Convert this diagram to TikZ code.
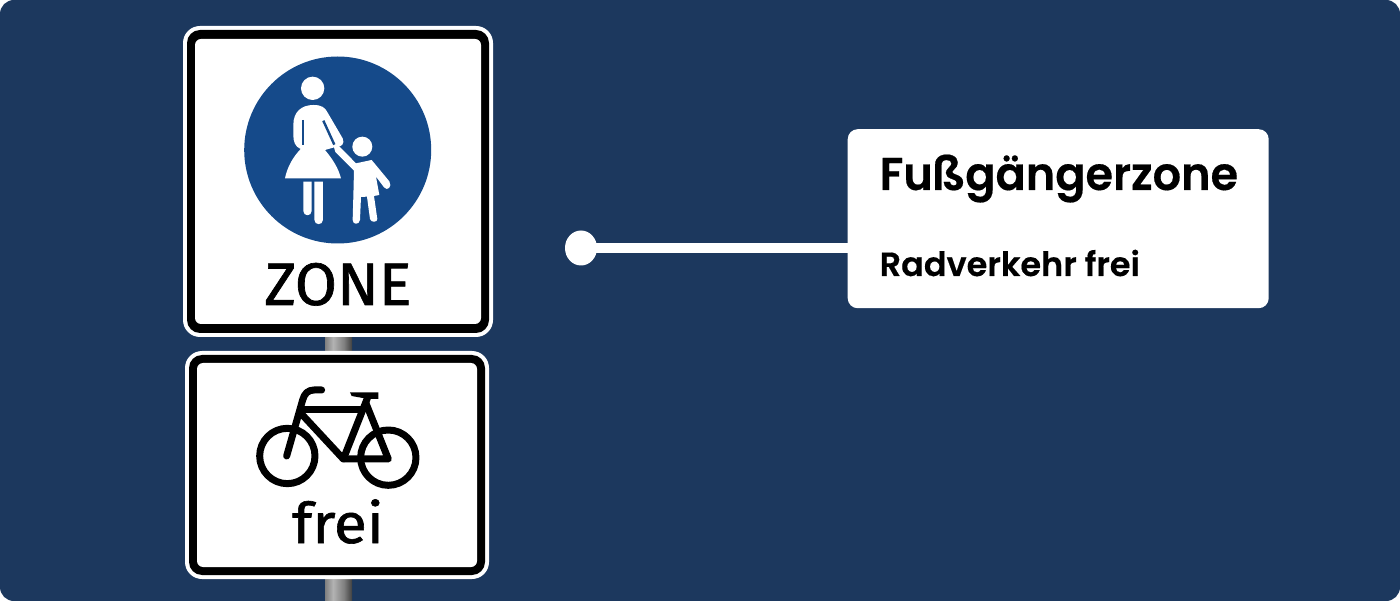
\documentclass[tikz,border=0pt]{standalone}
\usepackage{fontspec}
\setmainfont{Poppins}[BoldFont={Poppins SemiBold},BoldFeatures={FakeBold=0.4}]
\newfontfamily\signfont[FakeBold=1.1]{Fira Sans}
\definecolor{bgblue}{HTML}{1C385E}
\definecolor{signblue}{HTML}{154A8A}
\pgfdeclarehorizontalshading{poleshade}{100bp}{color(0bp)=(black!50); color(25bp)=(black!50); color(40bp)=(black!30); color(60bp)=(black!50); color(75bp)=(black!75); color(100bp)=(black!75)}
\tikzset{
  poleseg/.style={shading=poleshade, draw=none},
  signwhite/.style={fill=white, draw=none},
  signblack/.style={fill=black, draw=none},
  figwhite/.style={fill=white, draw=none},
  bikeline/.style={draw=black, line width=7pt, line cap=round, line join=round},
  calltext/.style={anchor=base west, inner sep=0pt, text=black},
  signtext/.style={anchor=base, inner sep=0pt, text=black},
  zoomfig/.style={x=0.3333pt, y=-0.3333pt},
}
\begin{document}
\begin{tikzpicture}[x=1pt,y=-1pt]
\useasboundingbox (0,0) rectangle (1400,601);
\fill[white] (0,0) rectangle (1400,601);
\fill[bgblue, rounded corners=14pt] (0,0) rectangle (1400,601);
% poles
\shade[poleseg] (325,330) rectangle (352,356);
\shade[poleseg] (325,575) rectangle (352,601);
% sign 1
\fill[signwhite, rounded corners=17pt] (183,26) rectangle (493,337);
\fill[signblack, rounded corners=13pt] (187,30) rectangle (489,333);
\fill[signwhite, rounded corners=6pt] (195,39) rectangle (481,324);
\fill[signblue] (337.7,150) circle [radius=93.5];
% woman and child
\begin{scope}[shift={(230,50)}, zoomfig]
\fill[figwhite] (248,115) circle [radius=35];
\fill[figwhite] (397,290) circle [radius=30];
\fill[figwhite] (250,165) .. controls (275,165) and (285,172) .. (293,188)
  -- (338,265) .. controls (345,280) and (335,292) .. (320,290)
  -- (285,300) .. controls (310,330) and (325,355) .. (333,385)
  -- (165,385) .. controls (172,350) and (190,320) .. (212,297)
  .. controls (195,290) and (190,275) .. (190,255) -- (190,225)
  .. controls (190,185) and (215,165) .. (250,165) -- cycle;
\draw[signblue, line width=2.4pt] (219,210) -- (219,284);
\draw[signblue, line width=2.4pt] (280,212) -- (313,284);
\fill[figwhite] (220,395) -- (245,395) -- (245,483) .. controls (245,500) and (220,500) .. (220,483) -- cycle;
\fill[figwhite] (253,395) -- (279,395) -- (279,509) .. controls (279,527) and (253,527) .. (253,509) -- cycle;
\fill[figwhite] (312,292) -- (325,286) -- (378,340) -- (425,330)
  -- (478,394) .. controls (488,410) and (472,425) .. (462,412)
  -- (438,380) -- (448,435) -- (432,438) -- (442,507)
  .. controls (443,518) and (422,518) .. (420,507) -- (411,440) -- (393,441) -- (390,510)
  .. controls (388,525) and (368,525) .. (368,510) -- (370,442) -- (372,362)
  -- (316,306) -- cycle;
\end{scope}
\node[signtext, font=\signfont\fontsize{60}{60}\selectfont\addfontfeature{FakeStretch=1.02}] (zone) at (338,305) {ZONE};
% sign 2
\fill[signwhite, rounded corners=17pt] (185,351) rectangle (489,579);
\fill[signblack, rounded corners=13pt] (189,355) rectangle (485,575);
\fill[signwhite, rounded corners=6pt] (197,363) rectangle (477,567);
\begin{scope}[shift={(240,375)}, zoomfig]
\draw[bikeline] (142,243) circle [radius=83];
\draw[bikeline] (445,248) circle [radius=83];
\draw[bikeline] (140,243) -- (188,75) .. controls (193,55) and (205,45) .. (222,45) -- (245,45);
\draw[bikeline, line cap=butt] (178,105) -- (372,105);
\draw[bikeline] (180,112) -- (310,252) -- (445,252) -- (378,85);
\draw[bikeline] (310,252) -- (382,70);
\fill[black] (330,52) -- (415,52) -- (415,72) -- (385,72) -- (335,63) -- cycle;
\end{scope}
\node[signtext, font=\signfont\fontsize{56}{56}\selectfont\addfontfeature{FakeStretch=1.08}] (frei) at (338,543) {frei};
% connector
\fill[white] (581,248) ellipse [x radius=16, y radius=17.5];
\coordinate (dot) at (581,248);
\node[fill=white, rounded corners=10pt, minimum width=421pt, minimum height=179pt, inner sep=0pt, anchor=north west] (box) at (847.5,129) {};
\draw[white, line width=10pt] (dot) -- (dot -| box.west);
\node[calltext, font=\fontsize{46}{46}\selectfont\bfseries\addfontfeature{FakeStretch=0.97}] (title) at (879.5,190) {Fußgängerzone};
\node[calltext, font=\fontsize{33.5}{33.5}\selectfont\bfseries] (sub) at (879.5,276) {Radverkehr frei};
\end{tikzpicture}
\end{document}
